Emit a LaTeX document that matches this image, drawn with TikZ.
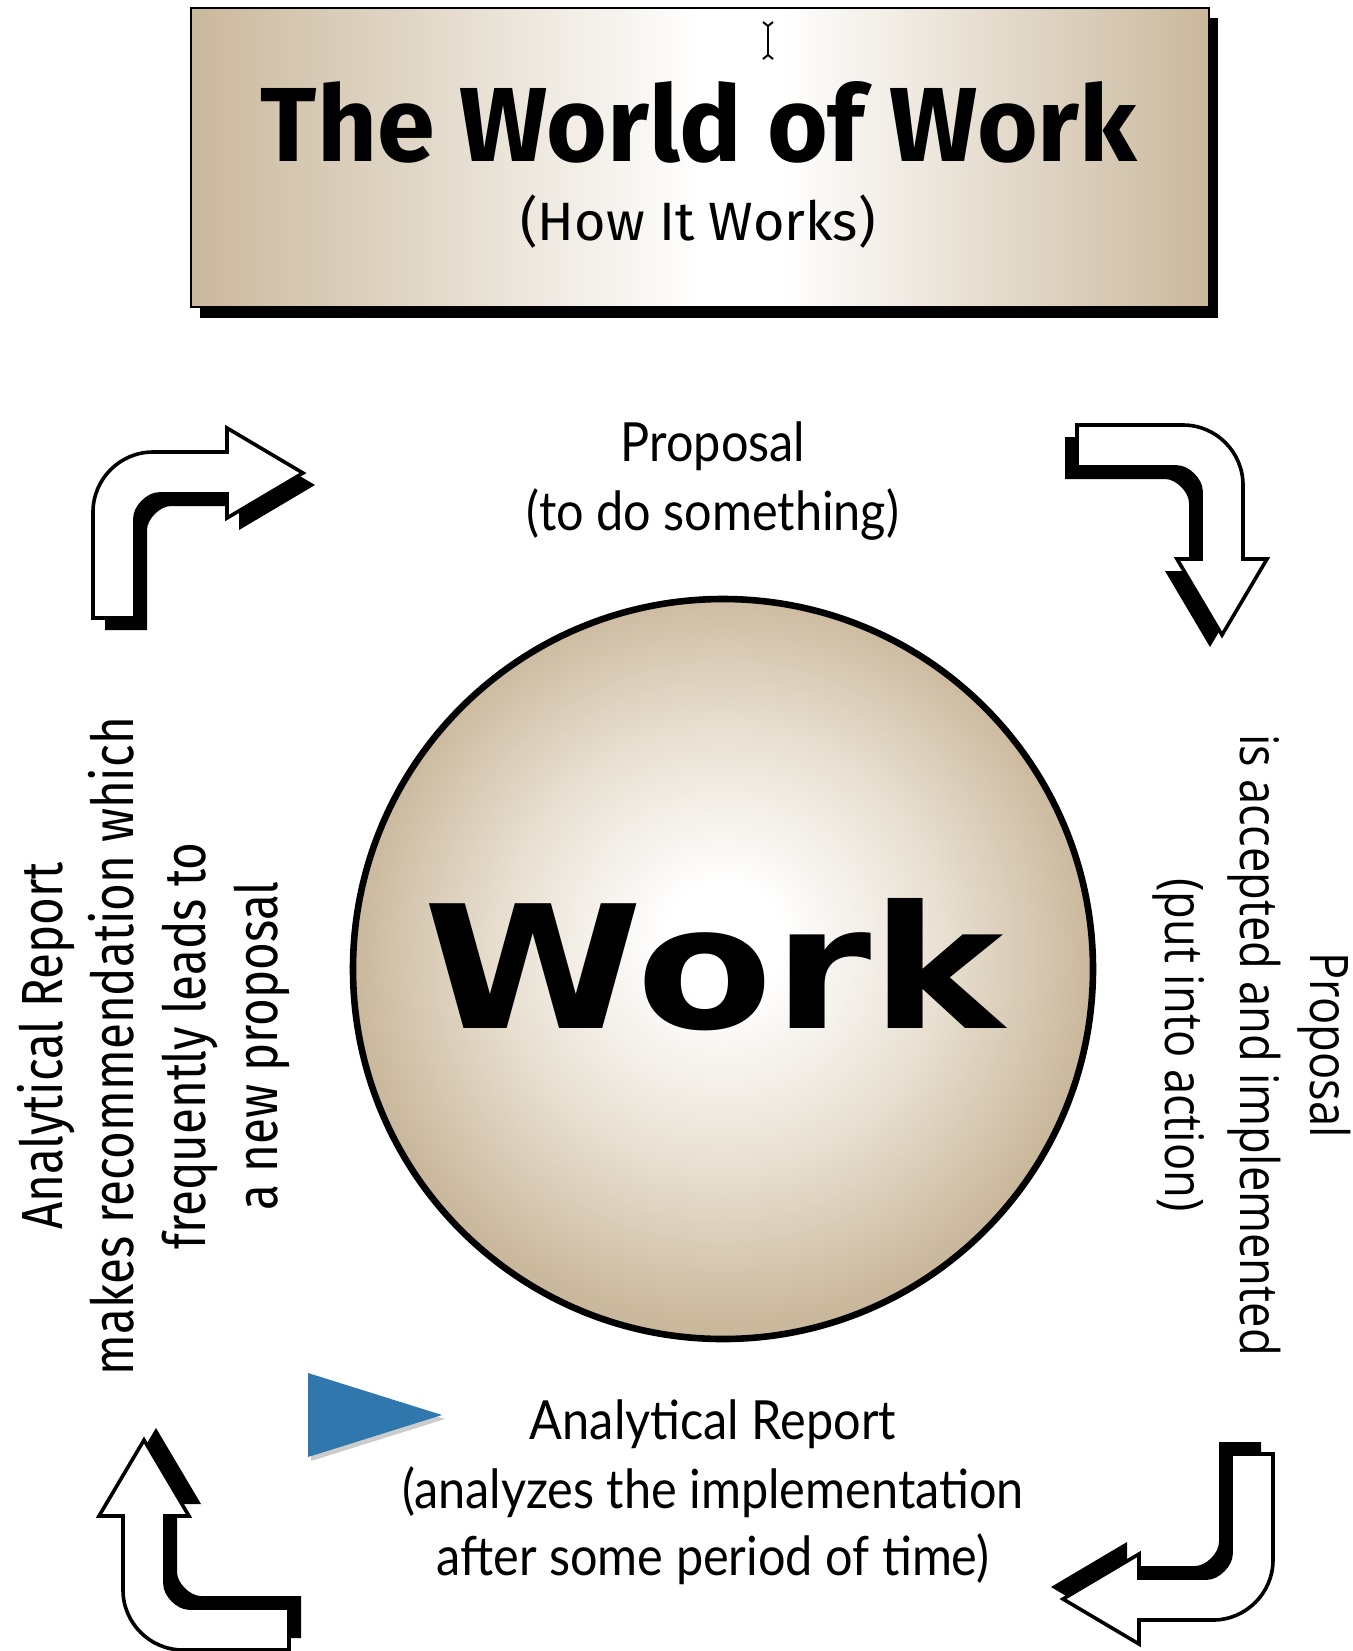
\documentclass[tikz,border=0pt]{standalone}
\usepackage{fontspec}
\usepackage{graphicx}
\setmainfont{Lato}
\newfontfamily\titlefont{Fira Sans}
\newfontfamily\leftfont[FakeStretch=0.82]{Fira Sans}
\newfontfamily\rightfont[FakeStretch=0.85]{Open Sans}
\newfontfamily\bodyfont[FakeStretch=0.9]{Lato}
\newfontfamily\workfont{DejaVu Sans}
\definecolor{tanc}{RGB}{202,184,156}
\definecolor{tanmid}{RGB}{232,223,209}
\definecolor{triblue}{RGB}{47,119,172}
\pgfdeclareradialshading{ballshade}{\pgfpoint{0bp}{2bp}}{color(0bp)=(white); color(4bp)=(white); color(15bp)=(tanmid); color(25bp)=(tanc); color(50bp)=(tanc)}
\pgfdeclarehorizontalshading{boxshade}{100bp}{color(0bp)=(tanc); color(25bp)=(tanc); color(50bp)=(white); color(54bp)=(white); color(75bp)=(tanc); color(100bp)=(tanc)}
\begin{document}
\begin{tikzpicture}[x=0.5pt,y=-0.5pt,
  arrowbody/.style={fill=white,draw=black,line width=1.8pt,line join=miter},
  bodytext/.style={font=\bodyfont\fontsize{27}{32}\selectfont, inner sep=0pt, anchor=base},
  lefttext/.style={font=\leftfont\fontsize{29}{34}\selectfont, inner sep=0pt, anchor=base, rotate=90},
  righttext/.style={font=\rightfont\fontsize{26.6}{32}\selectfont, inner sep=0pt, anchor=base, rotate=-90},
  bentarrow/.pic={
    \begin{scope}[shift={(12,12)}]
      \fill[black] (0,166) -- (0,60) .. controls (0,27) and (27,0) .. (60,0) -- (134,0) -- (134,-24) -- (210,21) -- (134,66) -- (134,42) -- (66,42) .. controls (55,42) and (42,55) .. (42,66) -- (42,166) -- cycle;
    \end{scope}
    \filldraw[arrowbody] (0,166) -- (0,60) .. controls (0,27) and (27,0) .. (60,0) -- (134,0) -- (134,-24) -- (210,21) -- (134,66) -- (134,42) -- (66,42) .. controls (55,42) and (42,55) .. (42,66) -- (42,166) -- cycle;
  }]
\fill[white] (0,0) rectangle (1353,1651);
\useasboundingbox (0,0) rectangle (1353,1651);

% title box
\fill[black] (200,18) rectangle (1218,318);
\shade[shading=boxshade, draw=black, line width=1pt] (191,8) rectangle (1209,307);
\draw[line width=1pt] (763,22) -- (768,26) -- (773,22);
\draw[line width=1pt] (768,26) -- (768,55);
\draw[line width=1pt] (763,59) -- (768,55) -- (773,59);
\node[anchor=base, inner sep=0pt] (title) at (699,161) {\resizebox{438pt}{40pt}{\titlefont\bfseries The World of Work}};
\node[anchor=base, inner sep=0pt, font=\titlefont\fontsize{27}{32}\selectfont] (sub) at (698,240) {(How It Works)};

% circle
\shade[shading=ballshade] (723,969) circle[radius=370];
\draw[line width=3.3pt] (723,969) circle[radius=370];
\node[anchor=base, inner sep=0pt, text=black] (work) at (714,1028) {\resizebox{290pt}{65pt}{\workfont\bfseries Work}};

% arrows
\pic at (93,452) {bentarrow};
\pic[rotate=-90] at (1243,425) {bentarrow};
\pic[rotate=180] at (1273,1620) {bentarrow};
\pic[rotate=90] at (123,1650) {bentarrow};

% blue triangle
\fill[black, opacity=0.2] (311,1377) -- (445,1419) -- (311,1461) -- cycle;
\fill[triblue] (308,1373) -- (442,1415) -- (308,1457) -- cycle;

% texts
\node[bodytext] (prop1) at (713,461) {Proposal};
\node[bodytext] (prop2) at (713,530) {(to do something)};
\node[bodytext] (rep1) at (713,1439) {Analytical Report};
\node[bodytext] (rep2) at (713,1508) {(analyzes the implementation};
\node[bodytext] (rep3) at (713,1575) {after some period of time)};

\node[lefttext] (l1) at (62,1046) {Analytical Report};
\node[lefttext] (l2) at (133,1046) {makes recommendation which};
\node[lefttext] (l3) at (205,1046) {frequently leads to};
\node[lefttext] (l4) at (277,1046) {a new proposal};

\node[righttext] (r1) at (1310,1045) {Proposal};
\node[righttext] (r2) at (1240,1045) {is accepted and implemented};
\node[righttext] (r3) at (1165,1045) {(put into action)};
\end{tikzpicture}
\end{document}
